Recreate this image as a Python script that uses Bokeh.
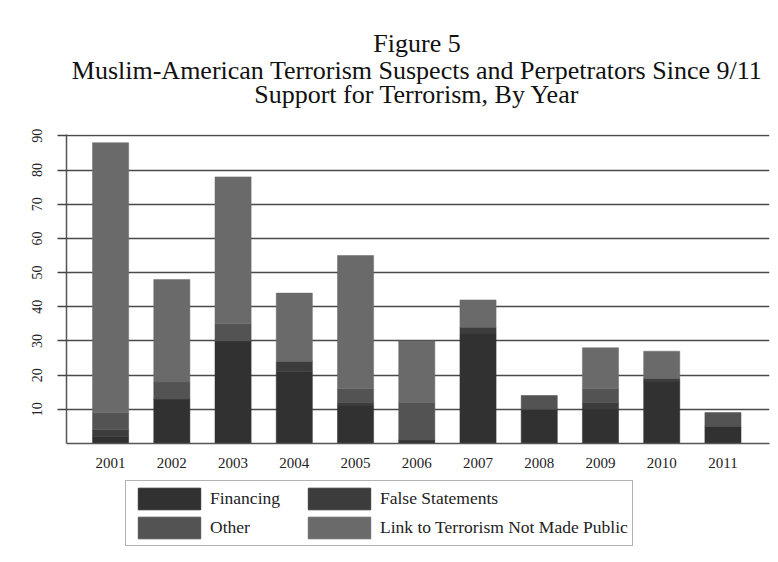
from bokeh.plotting import figure
from bokeh.layouts import column
from bokeh.models import (Range1d, FixedTicker, Legend, LegendItem, Label)
from bokeh.embed import file_html
from bokeh.resources import INLINE

# ---- data ----
years = [2001, 2002, 2003, 2004, 2005, 2006, 2007, 2008, 2009, 2010, 2011]
financing = [2, 13, 30, 21, 11, 1, 32, 10, 10, 18, 5]
false_statements = [2, 0, 0, 3, 1, 0, 2, 0, 2, 1, 0]
other = [5, 5, 5, 0, 4, 11, 0, 4, 4, 0, 4]
not_public = [79, 30, 43, 20, 39, 18, 8, 0, 12, 8, 0]
series_names = ["Financing", "False Statements", "Other",
                "Link to Terrorism Not Made Public"]
series_keys = ["fin", "fs", "oth", "np"]
colors = ["#313131", "#3c3c3c", "#535353", "#6a6a6a"]
y_ticks = [10, 20, 30, 40, 50, 60, 70, 80, 90]
title_lines = ["Figure 5",
               "Muslim-American Terrorism Suspects and Perpetrators Since 9/11",
               "Support for Terrorism, By Year"]

FONT = "Liberation Serif"

data = dict(year=years, fin=financing, fs=false_statements,
            oth=other, np=not_public)

# shared horizontal frame (column aligns the frames of its plots)
BL, BR, W = 66, 5, 774

# ---- title strip ----
p0 = figure(width=W, height=118, output_backend="svg", toolbar_location=None,
            x_range=Range1d(0, 1), y_range=Range1d(0, 1),
            x_axis_location=None, y_axis_location=None,
            min_border_left=BL, min_border_right=BR, min_border_top=0,
            min_border_bottom=0)
p0.grid.visible = False
p0.outline_line_color = None
title_y = [75, 48, 24]
frame_w = W - BL - BR
for txt, ty in zip(title_lines, title_y):
    p0.add_layout(Label(x=frame_w / 2 - 1, y=ty, x_units="screen",
                        y_units="screen", text=txt, text_align="center",
                        text_baseline="middle", text_font=FONT,
                        text_font_size="26px", text_color="#111111"))

# ---- main chart ----
p = figure(width=W, height=357, output_backend="svg", toolbar_location=None,
           x_range=Range1d(2000.28, 2011.76), y_range=Range1d(0, 90.4),
           min_border_left=BL, min_border_right=BR, min_border_top=16,
           min_border_bottom=32)

rs = p.vbar_stack(series_keys, x="year", width=0.59, source=data,
                  color=colors, line_color=colors, line_width=0.5)

p.outline_line_color = None
p.xgrid.grid_line_color = None
p.ygrid.ticker = FixedTicker(ticks=y_ticks)
p.ygrid.grid_line_color = "#4a4a4a"
p.ygrid.grid_line_width = 1.5

p.yaxis.ticker = FixedTicker(ticks=y_ticks)
p.yaxis.major_label_orientation = "vertical"
p.yaxis.major_label_text_font = FONT
p.yaxis.major_label_text_font_size = "14px"
p.yaxis.major_label_text_color = "#222222"
p.yaxis.major_tick_out = 9
p.yaxis.major_tick_in = 0
p.yaxis.minor_tick_line_color = None
p.yaxis.major_label_standoff = 15
p.yaxis.axis_line_color = "#555555"
p.yaxis.axis_line_width = 1.5
p.yaxis.major_tick_line_color = "#444444"
p.yaxis.major_tick_line_width = 1.5

p.xaxis.ticker = FixedTicker(ticks=years)
p.xaxis.major_label_text_font = FONT
p.xaxis.major_label_text_font_size = "15px"
p.xaxis.major_label_text_color = "#222222"
p.xaxis.major_tick_line_color = None
p.xaxis.minor_tick_line_color = None
p.xaxis.major_label_standoff = 8
p.xaxis.axis_line_color = "#555555"
p.xaxis.axis_line_width = 1.5

# ---- legend strip ----
p2 = figure(width=W, height=75, output_backend="svg", toolbar_location=None,
            x_range=Range1d(0, 1), y_range=Range1d(0, 1),
            x_axis_location=None, y_axis_location=None,
            min_border_left=BL, min_border_right=BR, min_border_top=0,
            min_border_bottom=0)
p2.grid.visible = False
p2.outline_line_color = None
lr = p2.vbar_stack(series_keys, x="year", width=0.59, source=data,
                   color=colors, line_color=colors)
for r in lr:
    r.visible = False   # only their legend swatches are wanted here

items = [LegendItem(label=n, renderers=[r]) for n, r in zip(series_names, lr)]
legend = Legend(items=items, orientation="horizontal", ncols=2,
                location=(125 - BL, 4), label_text_font=FONT,
                label_text_font_size="17.5px", label_text_color="#222222",
                glyph_width=78, glyph_height=27, label_standoff=2,
                label_width=88, spacing=2, padding=4, margin=0,
                inactive_fill_alpha=0.0,
                border_line_color="#666666", border_line_width=1.5,
                background_fill_color="white", background_fill_alpha=1.0)
p2.add_layout(legend)

layout = column(p0, p, p2, spacing=0)
open("out.html", "w").write(file_html(layout, INLINE))
